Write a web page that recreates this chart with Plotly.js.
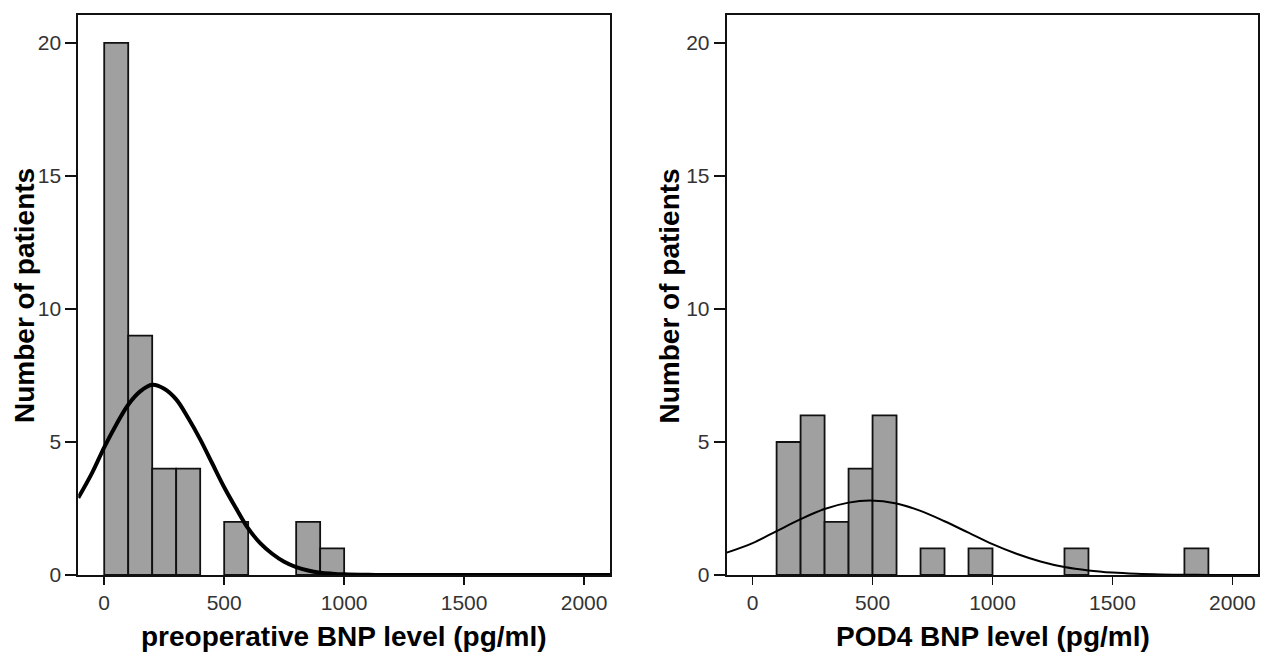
<!DOCTYPE html>
<html>
<head>
<meta charset="utf-8">
<script src="https://cdn.plot.ly/plotly-3.0.1.min.js"></script>
<style>html,body{margin:0;padding:0;background:#fff;}#chart{width:1264px;height:653px;}</style>
</head>
<body>
<div id="chart"></div>
<script>
// Left panel: preoperative BNP histogram (bin start, count)
const preBinStart = [0, 100, 200, 300, 500, 800, 900];
const preCounts   = [20, 9, 4, 4, 2, 2, 1];
// Left panel normal curve
const preCurveX = [-108, -50, 0, 50, 100, 150, 200, 250, 300, 350, 400, 450, 500, 550, 600, 650, 700, 750, 800, 850, 900, 950, 1000, 1100, 1200, 1400, 1700, 2108];
const preCurveY = [2.9, 3.85, 4.8, 5.65, 6.4, 6.9, 7.15, 7.0, 6.6, 5.9, 5.1, 4.2, 3.3, 2.5, 1.75, 1.2, 0.8, 0.5, 0.3, 0.17, 0.09, 0.05, 0.025, 0.006, 0.001, 0, 0, 0];

// Right panel: POD4 BNP histogram (bin start, count)
const podBinStart = [100, 200, 300, 400, 500, 700, 900, 1300, 1800];
const podCounts   = [5, 6, 2, 4, 6, 1, 1, 1, 1];
// Right panel normal curve
const podCurveX = [-108, 0, 100, 200, 300, 400, 490, 600, 700, 800, 900, 1000, 1100, 1200, 1300, 1400, 1500, 1600, 1700, 1800, 1900, 2000, 2108];
const podCurveY = [0.84, 1.2, 1.65, 2.1, 2.48, 2.72, 2.8, 2.69, 2.41, 2.02, 1.59, 1.16, 0.8, 0.51, 0.3, 0.17, 0.09, 0.045, 0.02, 0.008, 0.003, 0.001, 0];

const xTicks = [0, 500, 1000, 1500, 2000];
const yTicks = [0, 5, 10, 15, 20];
const xTitleLeft = 'preoperative BNP level (pg/ml)';
const xTitleRight = 'POD4 BNP level (pg/ml)';
const yTitle = 'Number of patients';

const W = 1264, H = 653;
const FONT = 'Liberation Sans, Arial, Helvetica, sans-serif';

const barStyle = {color: '#a0a0a0', line: {color: '#111', width: 1.8}};

const traces = [
  {type: 'bar', x: preBinStart, y: preCounts, width: 100, offset: 0, marker: barStyle, xaxis: 'x', yaxis: 'y', hoverinfo: 'none'},
  {type: 'scatter', mode: 'lines', x: preCurveX, y: preCurveY, line: {color: '#000', width: 4, shape: 'spline'}, xaxis: 'x', yaxis: 'y', cliponaxis: true},
  {type: 'bar', x: podBinStart, y: podCounts, width: 100, offset: 0, marker: barStyle, xaxis: 'x2', yaxis: 'y2', hoverinfo: 'none'},
  {type: 'scatter', mode: 'lines', x: podCurveX, y: podCurveY, line: {color: '#000', width: 2, shape: 'spline'}, xaxis: 'x2', yaxis: 'y2', cliponaxis: true}
];

const yDom = [(H - 575) / H, (H - 15) / H];
function xAxis(domain) {
  return {
    domain: domain, range: [-108, 2108], tickvals: xTicks, ticktext: xTicks.map(String),
    showgrid: false, zeroline: false, showline: true, linecolor: '#111', linewidth: 2, mirror: true,
    ticks: 'outside', ticklen: 8, tickwidth: 1.5, tickcolor: '#111',
    tickfont: {family: FONT, size: 21, color: '#333'}, fixedrange: true
  };
}
function yAxis(anchor) {
  return {
    domain: yDom, range: [0, 21.05], tickvals: yTicks, ticktext: yTicks.map(String), anchor: anchor,
    showgrid: false, zeroline: false, showline: true, linecolor: '#111', linewidth: 2, mirror: true,
    ticks: 'outside', ticklen: 11, tickwidth: 1.5, tickcolor: '#111',
    tickfont: {family: FONT, size: 21, color: '#333'}, fixedrange: true
  };
}

const titleFont = {family: FONT, size: 28, color: '#000', weight: 'bold'};
const annotations = [
  {text: yTitle, xref: 'paper', yref: 'paper', x: 24 / W, y: (H - 296) / H, textangle: -90, showarrow: false, xanchor: 'center', yanchor: 'middle', font: titleFont},
  {text: yTitle, xref: 'paper', yref: 'paper', x: 668.5 / W, y: (H - 296) / H, textangle: -90, showarrow: false, xanchor: 'center', yanchor: 'middle', font: titleFont},
  {text: xTitleLeft, xref: 'paper', yref: 'paper', x: 344 / W, y: (H - 636) / H, showarrow: false, xanchor: 'center', yanchor: 'middle', font: titleFont},
  {text: xTitleRight, xref: 'paper', yref: 'paper', x: 992.5 / W, y: (H - 636) / H, showarrow: false, xanchor: 'center', yanchor: 'middle', font: titleFont}
];

const layout = {
  width: W, height: H, margin: {l: 0, r: 0, t: 0, b: 0},
  paper_bgcolor: '#fff', plot_bgcolor: '#fff', showlegend: false, bargap: 0,
  xaxis: xAxis([78.3 / W, 610 / W]),
  yaxis: yAxis('x'),
  xaxis2: Object.assign(xAxis([726.7 / W, 1258.3 / W]), {anchor: 'y2'}),
  yaxis2: yAxis('x2'),
  annotations: annotations
};
layout.xaxis.anchor = 'y';

Plotly.newPlot('chart', traces, layout, {staticPlot: true, displayModeBar: false});
</script>
</body>
</html>
